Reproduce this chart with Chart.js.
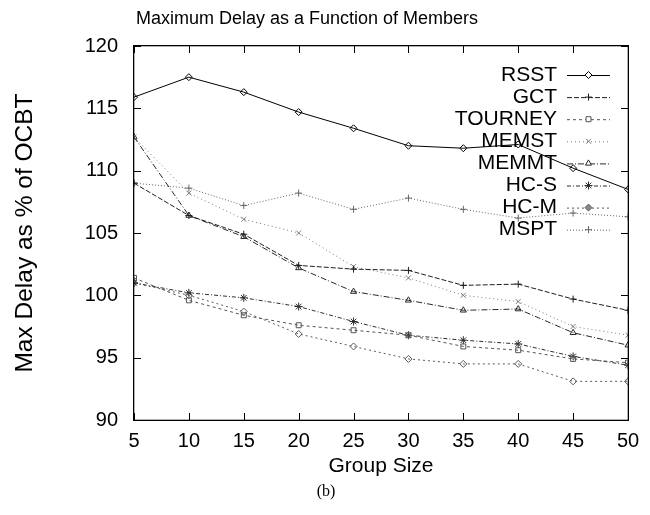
<!DOCTYPE html>
<html>
<head>
<meta charset="utf-8">
<script src="https://cdn.jsdelivr.net/npm/chart.js@4/dist/chart.umd.min.js"></script>
<style>
  html, body { margin: 0; padding: 0; background: #fff; }
  #wrap { width: 650px; height: 515px; }
</style>
</head>
<body>
<div id="wrap"><canvas id="c" width="650" height="515"></canvas></div>
<script>
// Group sizes on the x axis
const groupSizes = [5, 10, 15, 20, 25, 30, 35, 40, 45, 50];

// Maximum delay (% of OCBT) per algorithm
const rsst    = [115.9, 117.5, 116.3, 114.7, 113.4, 112.0, 111.8, 112.1, 110.2, 108.5];
const gct     = [109.0, 106.4, 104.9, 102.4, 102.1, 102.0, 100.8, 100.9, 99.7, 98.8];
const tourney = [101.4, 99.6, 98.4, 97.6, 97.2, 96.8, 95.9, 95.6, 94.9, 94.6];
const memst   = [112.7, 108.2, 106.1, 105.0, 102.3, 101.4, 100.0, 99.5, 97.5, 96.8];
const memmt   = [112.7, 106.4, 104.7, 102.2, 100.3, 99.6, 98.8, 98.9, 97.0, 96.0];
const hcS     = [101.0, 100.2, 99.8, 99.1, 97.9, 96.8, 96.4, 96.1, 95.1, 94.4];
const hcM     = [101.0, 100.0, 98.7, 96.9, 95.9, 94.9, 94.5, 94.5, 93.1, 93.1];
const mspt    = [109.0, 108.6, 107.2, 108.2, 106.9, 107.8, 106.9, 106.2, 106.6, 106.3];

const seriesNames = ['RSST', 'GCT', 'TOURNEY', 'MEMST', 'MEMMT', 'HC-S', 'HC-M', 'MSPT'];
const seriesValues = [rsst, gct, tourney, memst, memmt, hcS, hcM, mspt];

const yTicks = [90, 95, 100, 105, 110, 115, 120];

const titleText = 'Maximum Delay as a Function of Members';
const xTitle = 'Group Size';
const yTitle = 'Max Delay as % of OCBT';
const captionText = '(b)';

// line look per series: colour, dash pattern, marker
const looks = [
  { color: '#000000', dash: [],           point: 'rectRot'  },
  { color: '#1e1e1e', dash: [5, 2],       point: 'cross'    },
  { color: '#555555', dash: [3, 3],       point: 'rect'     },
  { color: '#7a7a7a', dash: [1, 3],       point: 'crossRot' },
  { color: '#2a2a2a', dash: [6, 2, 1, 2], point: 'triangle' },
  { color: '#2f2f2f', dash: [4, 2, 1, 2], point: 'star'     },
  { color: '#5a5a5a', dash: [2, 3],       point: 'rectRot'  },
  { color: '#666666', dash: [1, 2],       point: 'cross'    }
];

const datasets = seriesNames.map((name, i) => ({
  label: name,
  data: groupSizes.map((g, k) => ({ x: g, y: seriesValues[i][k] })),
  borderColor: looks[i].color,
  borderWidth: 1,
  borderDash: looks[i].dash,
  pointStyle: looks[i].point,
  pointRadius: looks[i].point === 'star' ? 4 : 3.5,
  pointBorderWidth: 1,
  pointBorderColor: looks[i].color,
  pointBackgroundColor: 'rgba(255,255,255,0)',
  fill: false,
  tension: 0
}));

const FONT = '"Liberation Sans", Arial, Helvetica, sans-serif';

// Box around the plot with inward tick marks on all four sides
const boxPlugin = {
  id: 'plotBox',
  afterDraw(chart) {
    const ctx = chart.ctx;
    const a = chart.chartArea;
    const tl = 7;
    ctx.save();
    ctx.fillStyle = '#000';
    ctx.fillRect(a.left - 1, a.top - 1, a.width + 2, 1.3);
    ctx.fillRect(a.left - 1, a.bottom - 0.3, a.width + 2, 1.3);
    ctx.fillRect(a.left - 1, a.top - 1, 1.3, a.height + 2);
    ctx.fillRect(a.right - 0.3, a.top - 1, 1.3, a.height + 2);
    const xs = chart.scales.x, ys = chart.scales.y;
    for (const v of groupSizes) {
      const px = Math.round(xs.getPixelForValue(v));
      ctx.fillRect(px, a.bottom - tl, 1, tl);
      ctx.fillRect(px, a.top, 1, tl);
    }
    for (const v of yTicks) {
      const py = Math.round(ys.getPixelForValue(v));
      ctx.fillRect(a.left, py, tl, 1);
      ctx.fillRect(a.right - tl, py, tl, 1);
    }
    ctx.restore();
  }
};

// Title, caption and the key
const textPlugin = {
  id: 'plotText',
  afterDraw(chart) {
    const ctx = chart.ctx;
    ctx.save();
    ctx.fillStyle = '#000';
    ctx.textBaseline = 'middle';
    ctx.textAlign = 'center';
    ctx.font = '18px ' + FONT;
    ctx.fillText(titleText, 307, 19);

    ctx.font = '16px "Liberation Serif", "Times New Roman", serif';
    ctx.fillText(captionText, 326, 492);

    // right-aligned names with a line sample to their right
    const rowH = 22.1;
    const top = 75;
    const textRight = 557;
    const s0 = 567, s1 = 610;
    chart.data.datasets.forEach((ds, i) => {
      const ry = top + i * rowH;
      ctx.font = '21px ' + FONT;
      ctx.textAlign = 'right';
      ctx.fillStyle = '#000';
      ctx.fillText(ds.label, textRight, ry);
      ctx.strokeStyle = ds.borderColor;
      ctx.lineWidth = 1;
      ctx.setLineDash(ds.borderDash);
      ctx.beginPath();
      ctx.moveTo(s0, ry + 0.5); ctx.lineTo(s1, ry + 0.5);
      ctx.stroke();
      ctx.setLineDash([]);
      ctx.fillStyle = ds.label === 'HC-M' ? '#888' : '#fff';
      Chart.helpers.drawPoint(ctx, {
        pointStyle: ds.pointStyle,
        radius: ds.pointRadius,
        rotation: 0,
        borderWidth: 1
      }, (s0 + s1) / 2, ry);
    });
    ctx.restore();
  }
};

new Chart(document.getElementById('c'), {
  type: 'line',
  data: { datasets },
  options: {
    responsive: false,
    animation: false,
    layout: { padding: { top: 46, right: 22, bottom: 0, left: 0 } },
    plugins: {
      legend: { display: false },
      title: { display: false },
      tooltip: { enabled: false }
    },
    scales: {
      x: {
        type: 'linear',
        min: 5, max: 50,
        afterBuildTicks(scale) { scale.ticks = groupSizes.map(v => ({ value: v })); },
        afterFit(scale) { scale.height = 95; },
        grid: { display: false, drawTicks: false },
        border: { display: false },
        ticks: { color: '#000', font: { family: FONT, size: 20 }, padding: 9, maxRotation: 0, autoSkip: false },
        title: { display: true, text: xTitle, color: '#000', font: { family: FONT, size: 21 }, padding: { top: 0, bottom: 36 } }
      },
      y: {
        type: 'linear',
        min: 90, max: 120,
        afterBuildTicks(scale) { scale.ticks = yTicks.map(v => ({ value: v })); },
        afterFit(scale) { scale.width = 134; },
        grid: { display: false, drawTicks: false },
        border: { display: false },
        ticks: { color: '#000', font: { family: FONT, size: 20 }, padding: 16 },
        title: { display: true, text: yTitle, color: '#000', font: { family: FONT, size: 24.5 }, padding: { top: 11, bottom: 0 } }
      }
    }
  },
  plugins: [boxPlugin, textPlugin]
});
</script>
</body>
</html>
